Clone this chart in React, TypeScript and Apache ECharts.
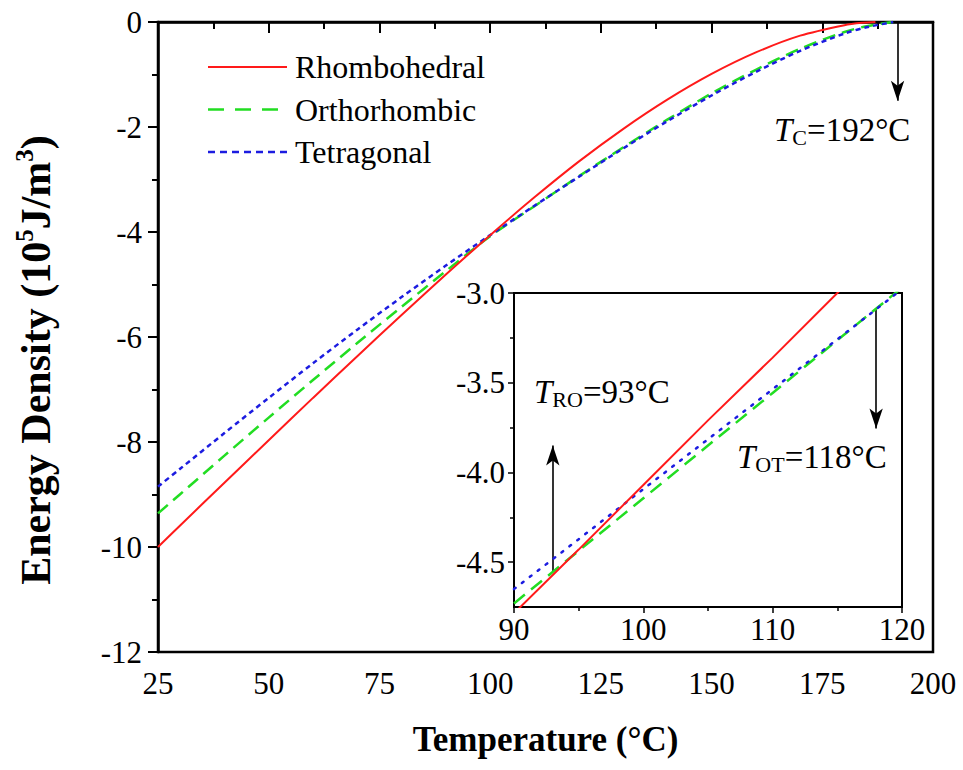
import React, { useEffect, useRef } from "react";
import * as echarts from "echarts";

// ---------- data ----------
const seriesNames = ["Rhombohedral", "Orthorhombic", "Tetragonal"];

// main panel: temperature (°C) vs energy density (10^5 J/m^3)
const rhomboTemps = [25, 30, 40, 50, 60, 70, 80, 90, 100, 110, 120, 130, 140, 150, 160, 170, 180, 184, 187];
const rhomboE = [-10.0, -9.59, -8.775, -7.965, -7.16, -6.365, -5.58, -4.81, -4.06, -3.34, -2.66, -2.04, -1.48, -0.99, -0.58, -0.26, -0.06, -0.015, 0];

const otTemps = [25, 30, 40, 50, 60, 70, 80, 90, 100, 110, 120, 130, 140, 150, 160, 170, 180, 185, 191];
const orthoE = [-9.36, -8.995, -8.26, -7.535, -6.82, -6.115, -5.425, -4.745, -4.08, -3.51, -2.94, -2.39, -1.86, -1.36, -0.91, -0.51, -0.19, -0.08, 0];
const tetraE = [-8.85, -8.51, -7.83, -7.16, -6.5, -5.86, -5.24, -4.64, -4.06, -3.5, -2.95, -2.41, -1.89, -1.4, -0.95, -0.55, -0.22, -0.1, 0];

// inset panel
const insetTemps = [90, 95, 100, 105, 110, 115, 120];
const insetRhomboE = [-4.785, -4.43, -4.07, -3.71, -3.36, -3.0, -2.64];
const insetOrthoE = [-4.73, -4.437, -4.144, -3.85, -3.557, -3.263, -2.97];
const insetTetraE = [-4.65, -4.372, -4.093, -3.815, -3.536, -3.258, -2.979];

// tick labels
const mainXTicks = [25, 50, 75, 100, 125, 150, 175, 200];
const mainYTicks = [0, -2, -4, -6, -8, -10, -12];
const insetXTicks = [90, 100, 110, 120];
const insetMajorY = [-4.5, -4.0, -3.5, -3.0];
const insetMinorY = [-4.25, -3.75, -3.25];

// annotations: [temperature, from energy, to energy]
const tcArrow = [192, 0, -1.5];
const troArrow = [93, -4.555, -3.85];
const totArrow = [118, -3.087, -3.755];

const RED = "#ff1a1a";
const GREEN = "#22dd22";
const BLUE = "#1c1ce0";
const FONT = "Liberation Serif";

const MAIN_X = [25, 200];
const MAIN_Y = [-12, 0];
const INSET_X = [90, 120];
const INSET_Y = [-4.75, -3.0];

const pairs = (xs: number[], ys: number[]) => xs.map((x, i) => [x, ys[i]]);

const arrowMark = (a: number[]) => ({
  silent: true,
  symbol: ["none", "arrow"],
  symbolSize: [10, 20],
  label: { show: false },
  emphasis: { disabled: true },
  lineStyle: { color: "#000", width: 1.6, type: "solid" },
  data: [[{ coord: [a[0], a[1]] }, { coord: [a[0], a[2]] }]],
});

const annRich = {
  i: { fontStyle: "italic", fontSize: 33, fontFamily: FONT, lineHeight: 36, color: "#000" },
  s: { fontSize: 22, fontFamily: FONT, lineHeight: 10, verticalAlign: "bottom", color: "#000" },
  n: { fontSize: 33, fontFamily: FONT, lineHeight: 36, color: "#000" },
};

const serifText = (x: number, y: number, text: string, size: number, align: string, vAlign: string) => ({
  type: "text",
  x,
  y,
  z: 100,
  silent: true,
  style: {
    text: `{a|${text}}`,
    rich: { a: { fontSize: size, fontFamily: FONT, color: "#000" } },
    fill: "#000",
    align,
    verticalAlign: vAlign,
    textAlign: align,
    textVerticalAlign: vAlign,
  },
});

const annText = (x: number, y: number, sub: string, rest: string) => ({
  type: "text",
  x,
  y,
  z: 100,
  style: {
    text: `{i|T}{s|${sub}}{n|${rest}}`,
    rich: annRich,
    fill: "#000",
    align: "left",
    verticalAlign: "middle",
    textAlign: "left",
    textVerticalAlign: "middle",
  },
});

// tick labels drawn through the axes' own scales (custom series, api.coord)
const tickLabelSeries = (
  xAxisIndex: number,
  yAxisIndex: number,
  values: number[],
  axis: "x" | "y",
  fixed: number,
  offset: number,
  fmt: (v: number) => string
) => ({
  type: "custom",
  xAxisIndex,
  yAxisIndex,
  silent: true,
  clip: false,
  z: 20,
  data: values.map((v) => (axis === "x" ? [v, fixed] : [fixed, v])),
  renderItem: (_params: any, api: any) => {
    const p = api.coord([api.value(0), api.value(1)]);
    const v = axis === "x" ? api.value(0) : api.value(1);
    return axis === "x"
      ? serifText(p[0], p[1] + offset, fmt(v), 31, "center", "top")
      : serifText(p[0] - offset, p[1], fmt(v), 31, "right", "middle");
  },
});

const legendRows = [
  { name: seriesNames[0], color: RED, dash: null as number[] | null, width: 2 },
  { name: seriesNames[1], color: GREEN, dash: [16, 11], width: 2.5 },
  { name: seriesNames[2], color: BLUE, dash: [7, 5], width: 2.5 },
];

export default function App() {
  const ref = useRef<HTMLDivElement>(null);

  useEffect(() => {
    if (!ref.current) return;
    const chart = echarts.init(ref.current, undefined, { renderer: "svg" });

    const legendGraphic: any[] = [];
    legendRows.forEach((r, i) => {
      const y = 67 + i * 42.5;
      legendGraphic.push({
        type: "line",
        z: 100,
        silent: true,
        shape: { x1: 208, y1: y, x2: 287, y2: y },
        style: { stroke: r.color, lineWidth: r.width, lineDash: r.dash || undefined },
      });
      legendGraphic.push(serifText(295, y, r.name, 32, "left", "middle"));
    });

    const option: any = {
      animation: false,
      backgroundColor: "#fff",
      textStyle: { fontFamily: FONT },
      grid: [
        { left: 158, top: 22, width: 775, height: 630, show: true, borderColor: "#000", borderWidth: 2.5, backgroundColor: "transparent", outerBoundsMode: "none" },
        { left: 514, top: 293, width: 388, height: 314, show: true, borderColor: "#000", borderWidth: 2, backgroundColor: "#fff", outerBoundsMode: "none", z: 5 },
      ],
      xAxis: [
        {
          type: "value", gridIndex: 0, min: MAIN_X[0], max: MAIN_X[1], interval: 25,
          name: "Temperature (°C)", nameLocation: "middle", nameGap: 70,
          nameTextStyle: { fontSize: 35, fontWeight: "bold", fontFamily: FONT, color: "#000" },
          axisLine: { lineStyle: { color: "#000", width: 2.5 } },
          axisTick: { length: 11, lineStyle: { color: "#000", width: 2 } },
          minorTick: { show: true, splitNumber: 2, length: 7, lineStyle: { color: "#000", width: 2 } },
          splitLine: { show: false },
          axisLabel: { show: false },
        },
        {
          type: "value", gridIndex: 1, min: INSET_X[0], max: INSET_X[1], interval: 10,
          axisLine: { lineStyle: { color: "#000", width: 2 } },
          axisTick: { length: 6, lineStyle: { color: "#000", width: 1.5 } },
          minorTick: { show: true, splitNumber: 2, length: 4, lineStyle: { color: "#000", width: 1.5 } },
          splitLine: { show: false },
          axisLabel: { show: false },
        },
      ],
      yAxis: [
        {
          type: "value", gridIndex: 0, min: MAIN_Y[0], max: MAIN_Y[1], interval: 2,
          axisLine: { lineStyle: { color: "#000", width: 2.5 } },
          axisTick: { length: 10, lineStyle: { color: "#000", width: 2 } },
          minorTick: { show: true, splitNumber: 2, length: 6, lineStyle: { color: "#000", width: 2 } },
          splitLine: { show: false },
          axisLabel: { show: false },
        },
        {
          type: "value", gridIndex: 1, position: "left", min: INSET_Y[0], max: INSET_Y[1],
          axisLine: { lineStyle: { color: "#000", width: 2 } },
          axisTick: { length: 6, customValues: insetMajorY, lineStyle: { color: "#000", width: 1.5 } },
          splitLine: { show: false },
          axisLabel: { show: false },
        },
        {
          type: "value", gridIndex: 1, position: "left", min: INSET_Y[0], max: INSET_Y[1],
          axisLine: { show: false },
          axisTick: { length: 4, customValues: insetMinorY, lineStyle: { color: "#000", width: 1.5 } },
          splitLine: { show: false },
          axisLabel: { show: false },
        },
      ],
      series: [
        { name: seriesNames[0], type: "line", xAxisIndex: 0, yAxisIndex: 0, showSymbol: false, symbol: "none", smooth: 0.3, data: pairs(rhomboTemps, rhomboE), lineStyle: { color: RED, width: 2 }, itemStyle: { color: RED }, z: 4 },
        { name: seriesNames[1], type: "line", xAxisIndex: 0, yAxisIndex: 0, showSymbol: false, symbol: "none", smooth: 0.3, data: pairs(otTemps, orthoE), lineStyle: { color: GREEN, width: 2.5, type: [13, 7] }, itemStyle: { color: GREEN }, z: 3 },
        { name: seriesNames[2], type: "line", xAxisIndex: 0, yAxisIndex: 0, showSymbol: false, symbol: "none", smooth: 0.3, data: pairs(otTemps, tetraE), lineStyle: { color: BLUE, width: 2.5, type: [5, 4] }, itemStyle: { color: BLUE }, markLine: arrowMark(tcArrow), z: 3 },
        { name: "R (inset)", type: "line", xAxisIndex: 1, yAxisIndex: 1, showSymbol: false, symbol: "none", clip: true, data: pairs(insetTemps, insetRhomboE), lineStyle: { color: RED, width: 2 }, z: 8 },
        { name: "O (inset)", type: "line", xAxisIndex: 1, yAxisIndex: 1, showSymbol: false, symbol: "none", clip: true, data: pairs(insetTemps, insetOrthoE), lineStyle: { color: GREEN, width: 2.5, type: [14, 8] }, markLine: arrowMark(troArrow), z: 7 },
        { name: "T (inset)", type: "line", xAxisIndex: 1, yAxisIndex: 1, showSymbol: false, symbol: "none", clip: true, data: pairs(insetTemps, insetTetraE), lineStyle: { color: BLUE, width: 2.5, type: [2, 8], cap: "round" }, markLine: arrowMark(totArrow), z: 7 },
        tickLabelSeries(0, 0, mainXTicks, "x", MAIN_Y[0], 16, (v) => String(v)),
        tickLabelSeries(0, 0, mainYTicks, "y", MAIN_X[0], 16, (v) => String(v)),
        tickLabelSeries(1, 1, insetXTicks, "x", INSET_Y[0], 7, (v) => String(v)),
        tickLabelSeries(1, 1, insetMajorY, "y", INSET_X[0], 9, (v) => v.toFixed(1)),
      ],
      graphic: [
        {
          type: "text", x: 36, y: 360, rotation: Math.PI / 2, z: 100,
          style: {
            text: "{b|Energy Density (10}{sup|5}{b|J/m}{sup|3}{b|)}",
            rich: {
              b: { fontSize: 42, fontWeight: "bold", fontFamily: FONT, lineHeight: 48, color: "#000" },
              sup: { fontSize: 25, fontWeight: "bold", fontFamily: FONT, lineHeight: 28, verticalAlign: "top", color: "#000" },
            },
            fill: "#000", align: "center", verticalAlign: "middle", textAlign: "center", textVerticalAlign: "middle",
          },
        },
        ...legendGraphic,
        annText(774, 130, "C", "=192°C"),
        annText(534, 392, "RO", "=93°C"),
        annText(737, 457, "OT", "=118°C"),
      ],
    };

    chart.setOption(option);
    return () => chart.dispose();
  }, []);

  return <div ref={ref} style={{ position: "fixed", left: 0, top: 0, width: 963, height: 770, background: "#fff" }} />;
}
